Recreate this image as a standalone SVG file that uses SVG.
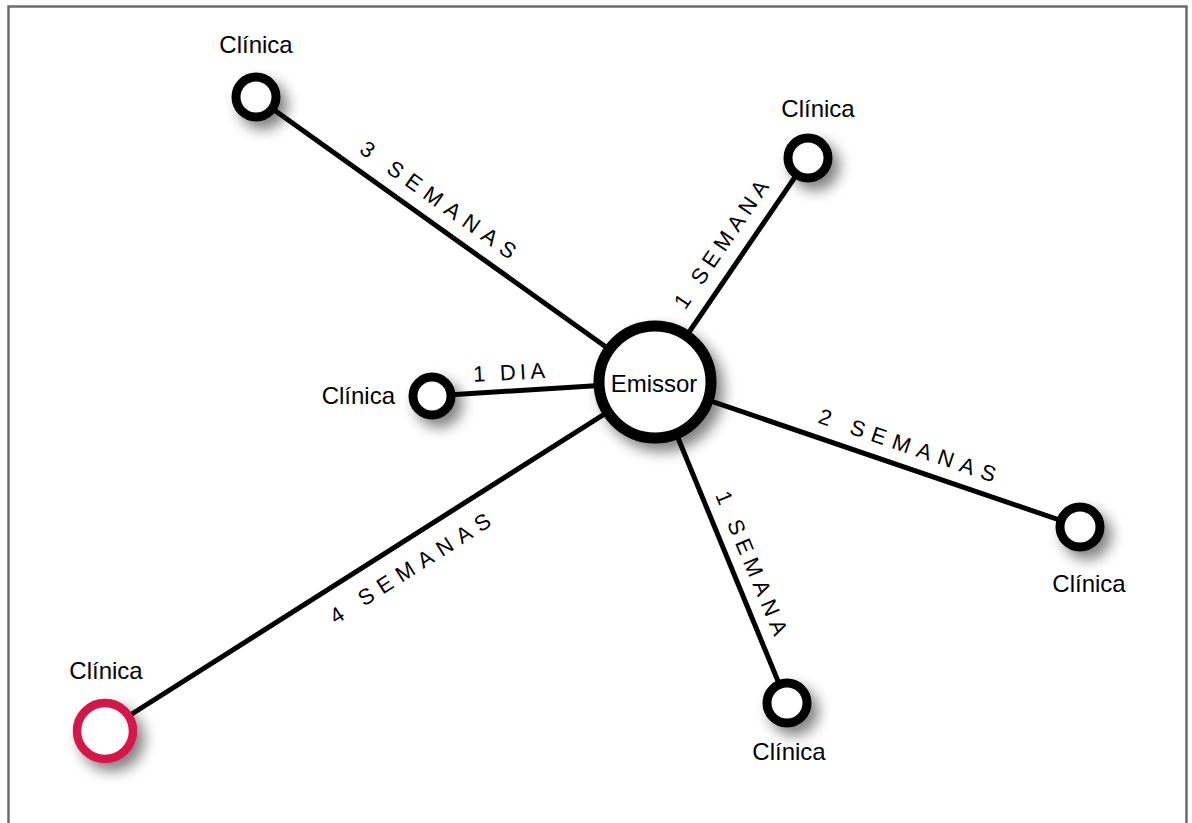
<svg xmlns="http://www.w3.org/2000/svg" width="1192" height="823" viewBox="0 0 1192 823">
<style>
.frame{fill:none;stroke:#6b6b6b;stroke-width:2.5}
.edge{stroke:#000;stroke-width:5;stroke-linecap:round;fill:none}
.node{fill:#fff;stroke:#000;stroke-width:9}
.hub{fill:#fff;stroke:#000;stroke-width:11}
.red{fill:#fff;stroke:#d4144a;stroke-width:8.5}
.lbl{font-family:"Liberation Sans",Arial,sans-serif;font-size:24px;fill:#000}
.el{font-family:"Liberation Sans",Arial,sans-serif;font-size:22px;fill:#000;text-anchor:middle}
</style>
<defs>
<filter id="sh" x="-60%" y="-60%" width="220%" height="220%">
<feGaussianBlur in="SourceAlpha" stdDeviation="7"/>
<feOffset dx="7" dy="8" result="b"/>
<feComponentTransfer><feFuncA type="linear" slope="0.5"/></feComponentTransfer>
<feMerge><feMergeNode/><feMergeNode in="SourceGraphic"/></feMerge>
</filter>
</defs>
<rect width="1192" height="823" fill="#fff"/>
<path class="frame" d="M8.5,823 V6.5 H1186.5 V823"/>
<g id="connectors">
<line class="edge" x1="655" y1="382" x2="256" y2="97"/>
<line class="edge" x1="655" y1="382" x2="808" y2="158"/>
<line class="edge" x1="655" y1="382" x2="432" y2="396"/>
<line class="edge" x1="655" y1="382" x2="1080" y2="527"/>
<line class="edge" x1="655" y1="382" x2="787" y2="703"/>
<line class="edge" x1="655" y1="382" x2="105" y2="731"/>
<text class="el" transform="translate(438.5,199.5) rotate(35.5)" y="8" textLength="186" lengthAdjust="spacing">3 SEMANAS</text>
<text class="el" transform="translate(721,244) rotate(-55.7)" y="8" textLength="150" lengthAdjust="spacing">1 SEMANA</text>
<text class="el" transform="translate(509,372) rotate(-3)" y="8" textLength="72" lengthAdjust="spacing">1 DIA</text>
<text class="el" transform="translate(907.5,445) rotate(18.8)" y="8" textLength="186" lengthAdjust="spacing">2 SEMANAS</text>
<text class="el" transform="translate(752,563) rotate(67.3)" y="8" textLength="154" lengthAdjust="spacing">1 SEMANA</text>
<text class="el" transform="translate(410,568) rotate(-32.5)" y="8" textLength="186" lengthAdjust="spacing">4 SEMANAS</text>
</g>
<g id="emissor">
<circle class="hub" cx="655" cy="382" r="56" filter="url(#sh)"/>
<text class="lbl" x="654" y="392" text-anchor="middle">Emissor</text>
</g>
<g id="clinica-1">
<circle class="node" cx="256" cy="97" r="20" filter="url(#sh)"/>
<text class="lbl" x="256" y="53" text-anchor="middle">Clínica</text>
</g>
<g id="clinica-2">
<circle class="node" cx="808" cy="158" r="20" filter="url(#sh)"/>
<text class="lbl" x="818" y="117" text-anchor="middle">Clínica</text>
</g>
<g id="clinica-3">
<circle class="node" cx="432" cy="396" r="19" filter="url(#sh)"/>
<text class="lbl" x="395" y="404" text-anchor="end">Clínica</text>
</g>
<g id="clinica-4">
<circle class="node" cx="1080" cy="527" r="20" filter="url(#sh)"/>
<text class="lbl" x="1089" y="592" text-anchor="middle">Clínica</text>
</g>
<g id="clinica-5">
<circle class="node" cx="787" cy="703" r="20" filter="url(#sh)"/>
<text class="lbl" x="789" y="760" text-anchor="middle">Clínica</text>
</g>
<g id="clinica-6">
<circle class="red" cx="105" cy="731" r="28" filter="url(#sh)"/>
<text class="lbl" x="106" y="679" text-anchor="middle">Clínica</text>
</g>
</svg>
